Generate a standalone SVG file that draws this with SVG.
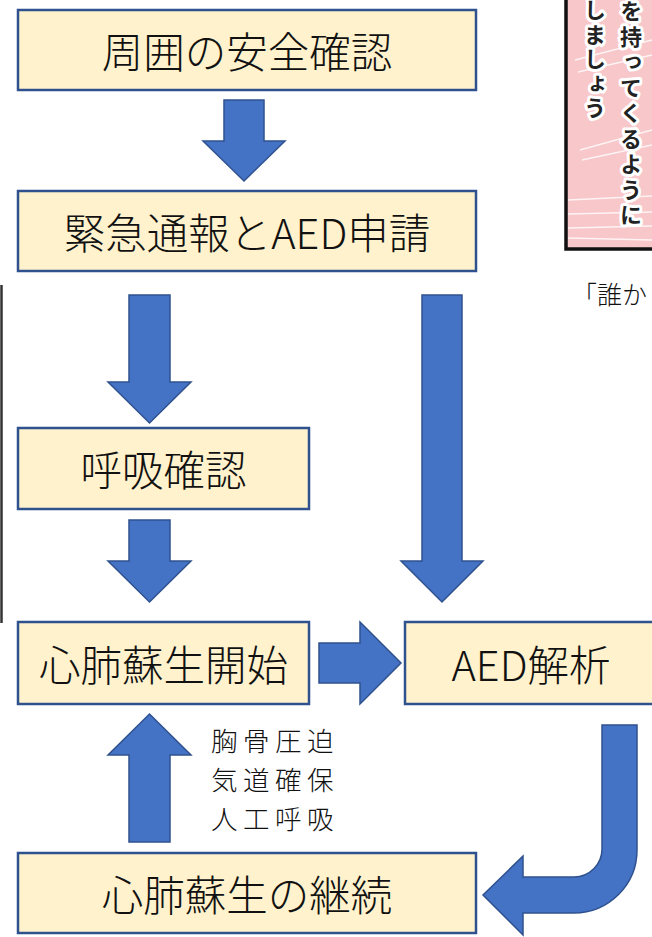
<svg xmlns="http://www.w3.org/2000/svg" width="652" height="937" viewBox="0 0 652 937">
  <style>
    .box { fill: #FFF2CC; stroke: #2F528F; stroke-width: 2.5; }
    .lbl { font-family: "Noto Sans CJK JP", "Noto Sans", sans-serif; font-weight: 300; font-size: 41.5px; fill: #111; text-anchor: middle; dominant-baseline: central; }
    .note { font-family: "Noto Sans CJK JP", "Noto Sans", sans-serif; font-weight: 300; font-size: 26.5px; letter-spacing: 5.5px; fill: #111; dominant-baseline: central; }
    .arrow { fill: #4472C4; stroke: #2F528F; stroke-width: 1.5; stroke-linejoin: miter; }
    .manga { font-family: "Noto Sans CJK JP", sans-serif; font-weight: 700; font-size: 22px; fill: #222; stroke: #fff; stroke-width: 6; stroke-linejoin: round; paint-order: stroke; writing-mode: vertical-rl; }
    .speed { stroke: #fff; stroke-width: 1.6; opacity: 0.8; }
  </style>

  <rect width="652" height="937" fill="#fff"/>

  <!-- comic panel in the top right corner -->
  <g id="comic-panel">
    <rect x="566" y="-6" width="100" height="255" fill="#F8C7CA"/>
    <g class="speed">
      <line x1="568" y1="200" x2="652" y2="196"/>
      <line x1="568" y1="214" x2="652" y2="212"/>
      <line x1="568" y1="228" x2="652" y2="226"/>
      <line x1="568" y1="238" x2="652" y2="240"/>
      <line x1="575" y1="60" x2="652" y2="40"/>
      <line x1="578" y1="72" x2="652" y2="55"/>
      <line x1="580" y1="150" x2="652" y2="130"/>
      <line x1="582" y1="160" x2="652" y2="145"/>
    </g>
    <text class="manga" x="631" y="0" letter-spacing="3.5">を持ってくるように</text>
    <text class="manga" x="595" y="-1" letter-spacing="2.5">しましょう</text>
    <rect x="566" y="-6" width="100" height="255" fill="none" stroke="#111" stroke-width="3.5"/>
  </g>

  <text x="572" y="293" font-family="'Noto Sans CJK JP', sans-serif" font-weight="300" font-size="25" fill="#111" dominant-baseline="central">「誰か</text>

  <!-- thin rule on the left edge -->
  <line x1="1.5" y1="285" x2="1.5" y2="623" stroke="#333" stroke-width="2.5"/>

  <!-- connectors -->
  <g id="connectors">
    <polygon class="arrow" points="224,100 264,100 264,141 285,141 244,181 203,141 224,141"/>
    <polygon class="arrow" points="129,295 170,295 170,382 191,382 149.5,423 108,382 129,382"/>
    <polygon class="arrow" points="129,520 170,520 170,561 191,561 149.5,602 108,561 129,561"/>
    <polygon class="arrow" points="422,295 462,295 462,561 483,561 442,602 401,561 422,561"/>
    <polygon class="arrow" points="319,643 360,643 360,622 401,663 360,704 360,683 319,683"/>
    <polygon class="arrow" points="129,842 170,842 170,755 191,755 149.5,714 108,755 129,755"/>
    <path class="arrow" d="M602,725 L637,725 L637,850 A63,63 0 0 1 574,913 L523,913 L523,935 L483,895 L523,856 L523,877 L574,877 A28,28 0 0 0 602,849 Z"/>
  </g>

  <g id="n-safety">
    <rect class="box" x="18" y="10" width="458" height="80"/>
    <text class="lbl" x="247" y="50">周囲の安全確認</text>
  </g>
  <g id="n-call">
    <rect class="box" x="18" y="191" width="458" height="80"/>
    <text class="lbl" x="247" y="231">緊急通報とAED申請</text>
  </g>
  <g id="n-breath">
    <rect class="box" x="18" y="428" width="291" height="81"/>
    <text class="lbl" x="163.5" y="468">呼吸確認</text>
  </g>
  <g id="n-cpr-start">
    <rect class="box" x="18" y="622" width="291" height="82"/>
    <text class="lbl" x="163.5" y="663">心肺蘇生開始</text>
  </g>
  <g id="n-aed">
    <rect class="box" x="405" y="622" width="254" height="82"/>
    <text class="lbl" x="531" y="663">AED解析</text>
  </g>
  <g id="n-cpr-continue">
    <rect class="box" x="18" y="853" width="458" height="80"/>
    <text class="lbl" x="247" y="893">心肺蘇生の継続</text>
  </g>

  <g id="cpr-steps">
    <text class="note" x="211" y="739">胸骨圧迫</text>
    <text class="note" x="211" y="778">気道確保</text>
    <text class="note" x="211" y="817">人工呼吸</text>
  </g>
</svg>
